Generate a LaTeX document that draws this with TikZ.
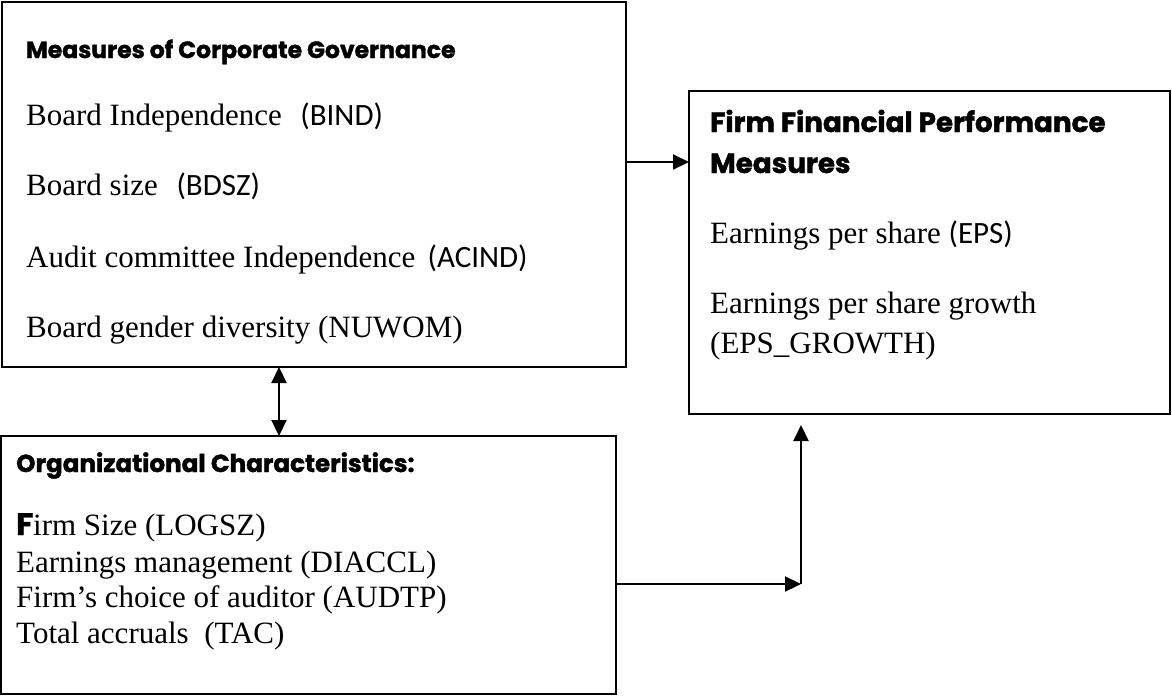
\documentclass[tikz,border=0pt]{standalone}
\usepackage{fontspec}
\setmainfont{Liberation Serif}
\newfontfamily\hfont{Poppins}[BoldFeatures={FakeBold=1.5}]
\newfontfamily\cfont{Carlito}
\usetikzlibrary{arrows.meta}
\tikzset{
  box/.style={draw, line width=2pt, inner sep=0pt, outer sep=0pt},
  txt/.style={anchor=base west, inner sep=0pt, font=\fontsize{31}{36}\selectfont},
  hA/.style={anchor=base west, inner sep=0pt, font=\hfont\bfseries\fontsize{23.5}{28}\selectfont},
  hB/.style={anchor=base west, inner sep=0pt, font=\hfont\bfseries\fontsize{24.6}{29}\selectfont},
  hC/.style={anchor=base west, inner sep=0pt, font=\hfont\bfseries\fontsize{27.8}{33}\selectfont},
  arr/.style={line width=2.2pt, -{Triangle[length=16pt,width=15pt]}},
  darr/.style={line width=2.2pt, {Triangle[length=16pt,width=15pt]}-{Triangle[length=16pt,width=15pt]}}
}
\newcommand{\ab}[1]{{\cfont #1}}
\begin{document}
\begin{tikzpicture}[x=1pt,y=-1pt]
\useasboundingbox (0,0) rectangle (1172,696);
% boxes
\node[box, minimum width=624pt, minimum height=365pt, anchor=north west] (gov) at (2,2) {};
\node[box, minimum width=481pt, minimum height=323pt, anchor=north west] (perf) at (689,91) {};
\node[box, minimum width=615pt, minimum height=258pt, anchor=north west] (org) at (1,436) {};
% box 1 text
\node[hA] (govh) at (26,58) {Measures of Corporate Governance};
\node[txt] (g1) at (26,125) {Board Independence\hspace{0.6em}\ab{(BIND)}};
\node[txt] (g2) at (26,195) {Board size\hspace{0.6em}\ab{(BDSZ)}};
\node[txt] (g3) at (26,267) {Audit committee Independence\hspace{0.4em}\ab{(ACIND)}};
\node[txt] (g4) at (26,337) {Board gender diversity (NUWOM)};
% box 2 text
\node[hC] (perfh1) at (710,132) {Firm Financial Performance};
\node[hC] (perfh2) at (710,173) {Measures};
\node[txt] (p1) at (710,243) {Earnings per share \ab{(EPS)}};
\node[txt] (p2) at (710,313) {Earnings per share growth};
\node[txt] (p3) at (710,353) {(EPS\_GROWTH)};
% box 3 text
\node[hB] (orgh) at (16,472) {Organizational Characteristics:};
\node[txt] (o1) at (16,535) {{\hfont\bfseries F}irm Size (LOGSZ)};
\node[txt] (o2) at (16,572) {Earnings management (DIACCL)};
\node[txt] (o3) at (16,607) {Firm’s choice of auditor (AUDTP)};
\node[txt] (o4) at (16,643) {Total accruals\hspace{0.5em}(TAC)};
% connectors
\coordinate (ya) at (0,162);
\coordinate (xb) at (279,0);
\coordinate (corner) at (801,584);
\draw[arr] (gov.east |- ya) -- (perf.west |- ya);
\draw[darr] (gov.south -| xb) -- (org.north -| xb);
\draw[arr] (org.east |- corner) -- (corner);
\draw[arr, shorten >=11pt] (corner) -- (perf.south -| corner);
\end{tikzpicture}
\end{document}
